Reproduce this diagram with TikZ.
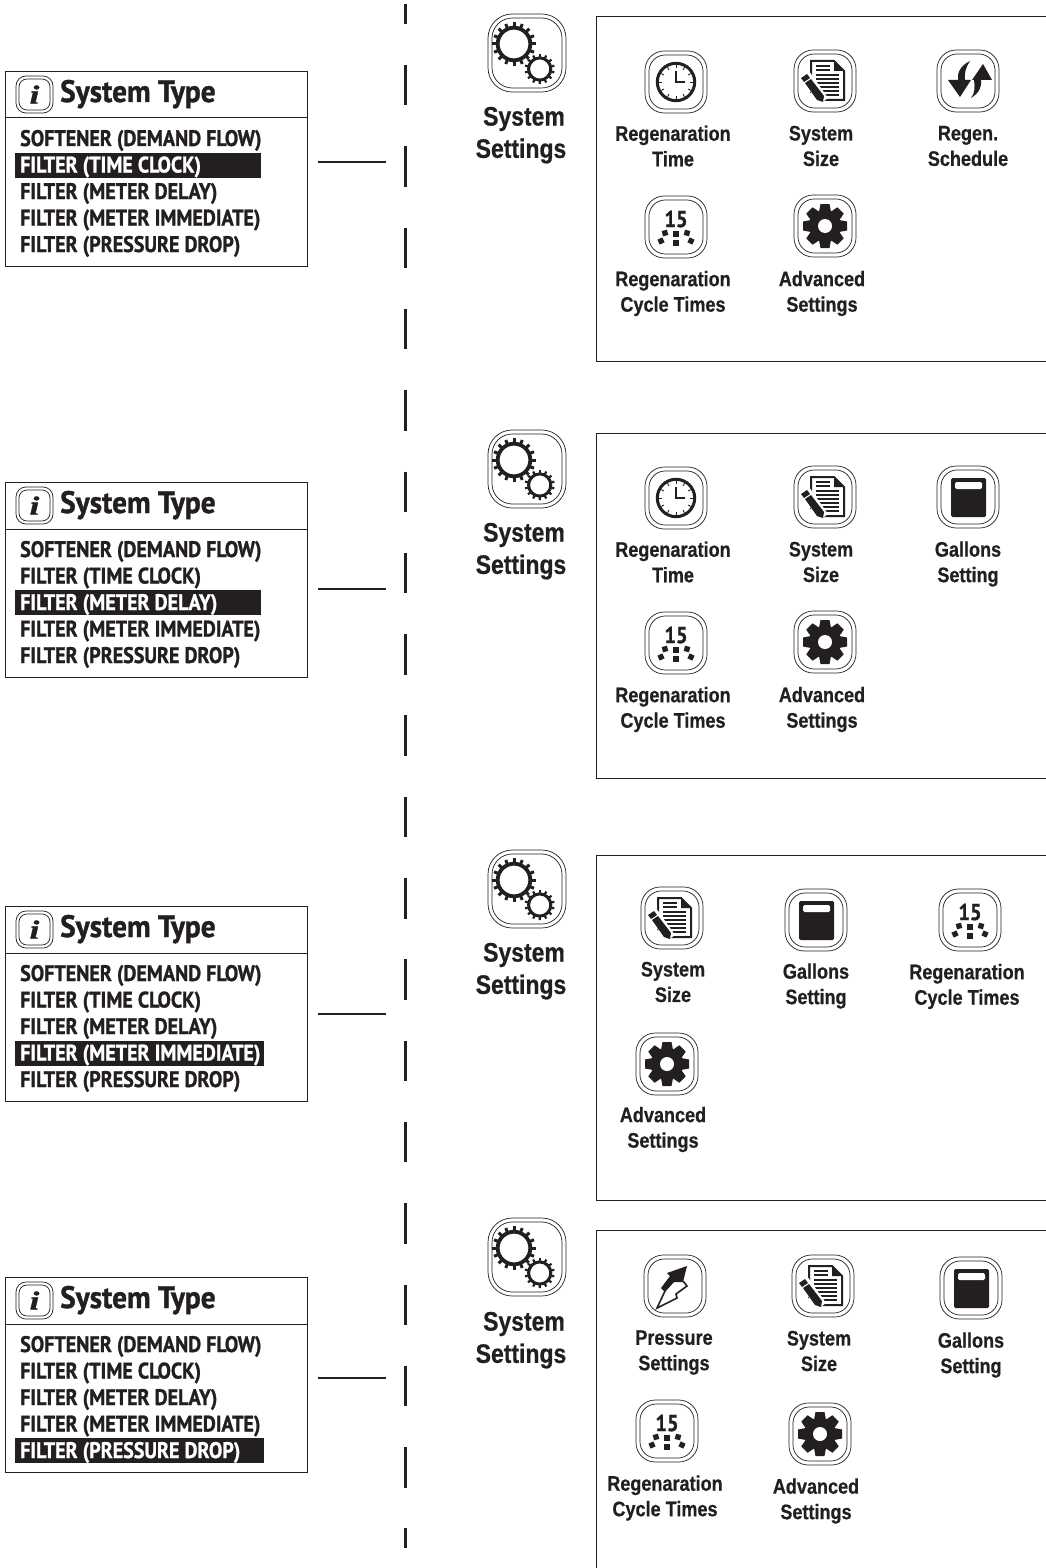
\documentclass[tikz,border=0pt]{standalone}
\usepackage{fontspec}
\usetikzlibrary{calc}
\newfontfamily\labf[BoldFeatures={FakeStretch=0.86,FakeBold=0.6}]{Liberation Sans}
\newfontfamily\menuf[BoldFeatures={FakeStretch=0.89,FakeBold=1.1}]{PT Sans}
\newfontfamily\titlef[BoldFeatures={FakeStretch=0.945,FakeBold=1.1}]{PT Sans}
\newfontfamily\infof[BoldItalicFeatures={FakeBold=1.5,FakeStretch=1.35}]{Liberation Serif}
\definecolor{ink}{HTML}{231F20}
\newcommand{\iconframe}[1]{%
  \draw[frameline,rounded corners=#1*0.62pt] (-#1,-#1) rectangle (#1,#1);
  \draw[frameline,rounded corners=#1*0.52pt] (-#1+4,-#1+4) rectangle (#1-4,#1-4);}
\tikzset{
  x=1pt,y=-1pt,
  frameline/.style={draw=ink,line width=0.7pt},
  boxline/.style={draw=ink,line width=1pt},
  conn/.style={draw=ink,line width=2.4pt},
  dashline/.style={draw=ink,line width=3pt},
  lab/.style={font=\labf\bfseries\fontsize{21}{25.5}\selectfont,text=ink,align=center,inner sep=0pt},
  biglab/.style={font=\labf\bfseries\fontsize{26.7}{32}\selectfont,text=ink,align=center,inner sep=0pt},
  item/.style={font=\menuf\bfseries\fontsize{22.5}{22.5}\selectfont,text=ink,anchor=base west,inner sep=0pt},
  ttl/.style={font=\titlef\bfseries\fontsize{31}{31}\selectfont,text=ink,anchor=base west,inner sep=0pt},
  clockicon/.pic={\iconframe{31}
    \draw[ink,line width=3pt] (0,0) circle (18.7);
    \foreach \a in {0,30,...,330}{\draw[ink,line width=0.9pt,rotate=\a] (0,-17) -- (0,-14);}
    \draw[ink,line width=1.4pt] (0,-11) -- (0,0) -- (9,0);},
  docicon/.pic={\iconframe{31}
    \draw[ink,line width=2pt,fill=white] (-14,12) -- (-14,-20) -- (9,-20) -- (19,-10) -- (19,19) -- (-3,19);
    \fill[ink] (9,-20) -- (9,-10) -- (19,-10) -- cycle;
    \foreach \yy/\xx in {-15/5,-11/5,-6/14,-2/14,2/14,6/14,10/14,14/14}{\draw[ink,line width=2.1pt] (-9,\yy) -- (\xx,\yy);}
    \fill[white] (-26,-4) -- (-16,-10) -- (3,17) -- (-5,23) -- cycle;
    \fill[ink] (-24,-3) -- (-18,-7) -- (-15,-3) -- (-21,1) -- cycle;
    \fill[ink] (-20,2) -- (-14,-2) -- (-1,15) -- (-2,21) -- (-8,19) -- cycle;},
  regenicon/.pic={\iconframe{31}
    \fill[ink] (2,-20) .. controls (-8,-15) and (-11,-8) .. (-10,-1) -- (-20,-1) -- (-8,16) -- (3,-1) -- (-3,-1) .. controls (-4,-8) and (-2,-14) .. (2,-20) -- cycle;
    \fill[ink] (3,17) .. controls (11,12) and (14,6) .. (13,-1) -- (24,-1) -- (15,-17) -- (4,-1) -- (6,-1) .. controls (7,6) and (7,12) .. (3,17) -- cycle;},
  cycleicon/.pic={\iconframe{31}
    \node[font=\menuf\bfseries\fontsize{23}{23}\selectfont,text=ink,inner sep=0pt] (-) at (0,-8) {15};
    \foreach \px/\py/\r in {0/7/0,0/16/0,-11/6/15,11/6/-15,-15/14/25,15/14/-25}{\fill[ink,shift={(\px,\py)},rotate=\r] (-2.7,-2.7) rectangle (2.7,2.7);}},
  gearicon/.pic={\iconframe{31}
    \fill[ink] (0,0) circle (16);
    \foreach \a in {0,45,...,315}{\fill[ink,rotate=\a] (-6,-14) -- (-4.5,-22) -- (4.5,-22) -- (6,-14) -- cycle;}
    \fill[white] (0,0) circle (7);},
  calcicon/.pic={\iconframe{31}
    \fill[ink,rounded corners=1.5pt] (-17,-19) rectangle (18,20);
    \fill[white,rounded corners=1.5pt] (-13,-15) rectangle (14,-8);},
  pressicon/.pic={\iconframe{31}
    \draw[ink,line width=1.6pt,fill=white] (-10,5) -- (-18,22) -- (2,12) -- (1,8) -- (12,0) -- (8,-5);
    \fill[ink] (12,-20) -- (-8,-13) -- (-5,-10) -- (-14,2) -- (-10,6) -- (-1,-4) -- (8,-4) -- cycle;},
  settingsicon/.pic={\iconframe{39}
    \draw[ink,line width=3.8pt] (-13,-9) circle (16.3);
    \foreach \a in {0,22.5,...,337.5}{\fill[ink,shift={(-13,-9)},rotate=\a] (-1.5,-21.6) rectangle (1.5,-17);}
    \fill[white] (12.7,16) circle (15);
    \draw[ink,line width=3pt] (12.7,16) circle (11.1);
    \foreach \a in {0,25.7,...,340}{\fill[ink,shift={(12.7,16)},rotate=\a] (-1.1,-15) rectangle (1.1,-12);}},
}
% #1 name, #2 top y, #3 selected row (1..5), #4 right end of the bar
\newcommand{\menubox}[4]{%
  \node[boxline,draw,minimum width=302pt,minimum height=195pt,anchor=north west,inner sep=0pt] (#1) at (5,#2) {};
  \draw[boxline] ($(#1.north west)+(0,47)$) -- ($(#1.north east)+(0,47)$);
  \begin{scope}[shift={(0,#2)}]
    \fill[ink] (15,{55+26.5*(#3-1)}) rectangle (#4,{80+26.5*(#3-1)});
    \begin{scope}[shift={(34.5,23.5)}]
      \draw[frameline,rounded corners=10pt] (-18.5,-18.5) rectangle (18.5,18.5);
      \draw[frameline,rounded corners=8pt] (-15.5,-15.5) rectangle (15.5,15.5);
      \node[font=\infof\itshape\bfseries\fontsize{26}{26}\selectfont,text=ink,inner sep=0pt] (#1i) at (0,0) {i};
    \end{scope}
    \node[ttl] (#1t) at (60,31) {System Type};
    \foreach \n/\t in {1/SOFTENER (DEMAND FLOW),2/FILTER (TIME CLOCK),3/FILTER (METER DELAY),4/FILTER (METER IMMEDIATE),5/FILTER (PRESSURE DROP)}{
      \ifnum\n=#3\relax
        \node[item,text=white] (#1r\n) at (20,{75+26.5*(\n-1)}) {\t};
      \else
        \node[item] (#1r\n) at (20,{75+26.5*(\n-1)}) {\t};
      \fi}
  \end{scope}}
\begin{document}
\begin{tikzpicture}
\useasboundingbox (0,0) rectangle (1045,1568);
\fill[white] (0,0) rectangle (1045,1568);
% dashed divider
\draw[dashline] (405,4) -- (405,24);
\foreach \k in {0,...,17}{
  \draw[dashline] (405,{65+81.3*\k}) -- (405,{105.5+81.3*\k});}
\draw[dashline] (405,1528) -- (405,1548);
% menus
\menubox{ma}{71}{2}{261}
\menubox{mb}{482}{3}{261}
\menubox{mc}{906}{4}{264}
\menubox{md}{1277}{5}{264}
% connectors
\foreach \n/\yy in {a/162,b/589,c/1014,d/1378}{
  \coordinate (s\n) at (318,\yy);
  \coordinate (e\n) at (386,\yy);
  \draw[conn] (s\n) -- (e\n);}
% settings columns
\foreach \n/\yi/\ya/\yb in {a/53/117/149,b/469/533/565,c/889/953/985,d/1257/1322/1354}{
  \pic at (527,\yi) {settingsicon};
  \node[biglab] (sys\n) at (524,\ya+2) {System};
  \node[biglab] (set\n) at (521,\yb+2) {Settings};}
% panels
\foreach \n/\ya/\yb in {a/16/361,b/433/778,c/855/1200,d/1230/1580}{
  \node[boxline,draw,minimum width=470pt,minimum height={(\yb-\ya)*1pt},anchor=north west,inner sep=0pt] (p\n) at (596,\ya) {};}
% panel 1
\pic at (676,82) {clockicon}; \pic at (825,81) {docicon}; \pic at (968,81) {regenicon};
\pic at (676,227) {cycleicon}; \pic at (825,226) {gearicon};
\node[lab] (l1) at (673,146) {Regenaration\\Time};
\node[lab] (l2) at (821,146) {System\\Size};
\node[lab] (l3) at (968,146) {Regen.\\Schedule};
\node[lab] (l4) at (673,293.5) {Regenaration\\Cycle Times};
\node[lab] (l5) at (822,293.5) {Advanced\\Settings};
% panel 2
\pic at (676,498) {clockicon}; \pic at (825,497) {docicon}; \pic at (968,497) {calcicon};
\pic at (676,643) {cycleicon}; \pic at (825,642) {gearicon};
\node[lab] (l6) at (673,562) {Regenaration\\Time};
\node[lab] (l7) at (821,562) {System\\Size};
\node[lab] (l8) at (968,564) {Gallons\\Setting};
\node[lab] (l9) at (673,709.5) {Regenaration\\Cycle Times};
\node[lab] (l10) at (822,709.5) {Advanced\\Settings};
% panel 3
\pic at (672,918) {docicon}; \pic at (816,920) {calcicon}; \pic at (970,920) {cycleicon};
\pic at (667,1064) {gearicon};
\node[lab] (l11) at (673,982) {System\\Size};
\node[lab] (l12) at (816,986) {Gallons\\Setting};
\node[lab] (l13) at (967,986.5) {Regenaration\\Cycle Times};
\node[lab] (l14) at (663,1129.5) {Advanced\\Settings};
% panel 4
\pic at (675,1286) {pressicon}; \pic at (823,1286) {docicon}; \pic at (971,1288) {calcicon};
\pic at (667,1431) {cycleicon}; \pic at (820,1434) {gearicon};
\node[lab] (l15) at (674,1352.5) {Pressure\\Settings};
\node[lab] (l16) at (819,1351) {System\\Size};
\node[lab] (l17) at (971,1355) {Gallons\\Setting};
\node[lab] (l18) at (665,1498) {Regenaration\\Cycle Times};
\node[lab] (l19) at (816,1501) {Advanced\\Settings};
\end{tikzpicture}
\end{document}
